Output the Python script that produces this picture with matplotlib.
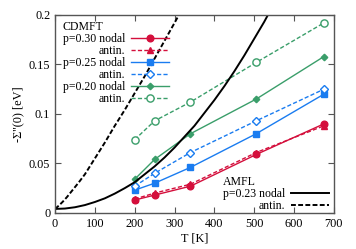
import matplotlib
matplotlib.use("Agg")
import matplotlib.pyplot as plt

plt.rcParams['font.family'] = ['Liberation Serif', 'DejaVu Serif']

# CDMFT data, T in K, -Sigma''(0) in eV
T = [200, 250, 340, 505, 675]
p30_nodal = [0.013, 0.018, 0.027, 0.059, 0.090]
p30_antin = [0.014, 0.020, 0.029, 0.061, 0.088]
p25_nodal = [0.023, 0.030, 0.046, 0.080, 0.120]
p25_antin = [0.027, 0.040, 0.061, 0.093, 0.125]
p20_nodal = [0.034, 0.054, 0.080, 0.115, 0.158]
p20_antin = [0.074, 0.093, 0.112, 0.152, 0.192]

# AMFL curves
T_amfl_nodal = [0, 25, 50, 75, 100, 125, 150, 175, 200, 225, 250, 275, 300, 325,
                350, 375, 400, 425, 450, 475, 500, 525, 545]
amfl_nodal = [0.004, 0.0044, 0.0057, 0.0079, 0.011, 0.0147, 0.0195, 0.025, 0.031,
              0.039, 0.047, 0.056, 0.066, 0.077, 0.088, 0.101, 0.114, 0.128, 0.143,
              0.159, 0.176, 0.193, 0.208]
T_amfl_antin = [0, 10, 20, 30, 40, 50, 60, 75, 100, 125, 150, 175, 200, 225, 250,
                275, 300, 315]
amfl_antin = [0.004, 0.0075, 0.0115, 0.016, 0.021, 0.026, 0.031, 0.039, 0.055, 0.071,
              0.088, 0.104, 0.121, 0.138, 0.156, 0.174, 0.192, 0.203]

red = '#d40f3c'
blue = '#1a7cf0'
green = '#3a9e6a'

fig = plt.figure(figsize=(3.56, 2.49), dpi=100)
ax = fig.add_axes([0.1545, 0.145, 0.7835, 0.795])

fs = 8.5
dash = (0, (3, 1.6))
l1, = ax.plot(T, p30_nodal, '-', color=red, marker='o', ms=4.8, lw=1.0, label='p=0.30 nodal')
l2, = ax.plot(T, p30_antin, color=red, ls=dash, marker='^', ms=4.8, lw=1.0, label='antin.')
l3, = ax.plot(T, p25_nodal, '-', color=blue, marker='s', ms=4.8, lw=1.0, label='p=0.25 nodal')
l4, = ax.plot(T, p25_antin, color=blue, ls=dash, marker='D', ms=4.3, mfc='white', mew=1.0, lw=1.0, label='antin.')
l5, = ax.plot(T, p20_nodal, '-', color=green, marker='D', ms=3.3, lw=1.0, label='p=0.20 nodal')
l6, = ax.plot(T, p20_antin, color=green, ls=dash, marker='o', ms=5.2, mfc='white', mew=1.0, lw=1.0, label='antin.')

a1, = ax.plot(T_amfl_nodal, amfl_nodal, '-', color='black', lw=1.4, label='p=0.23 nodal')
a2, = ax.plot(T_amfl_antin, amfl_antin, color='black', ls=(0, (2.5, 1.2)), lw=1.4, label='antin.')

ax.set_xlim(0, 700)
ax.set_ylim(0, 0.2)
ax.set_xticks(range(0, 701, 100))
ax.set_yticks([0, 0.05, 0.1, 0.15, 0.2])
ax.set_yticklabels(['0', '0.05', '0.1', '0.15', '0.2'])
ax.tick_params(direction='in', length=4, width=0.8, top=True, right=True,
               labelsize=fs + 0.3, colors='#555555', labelcolor='black')
for s in ax.spines.values():
    s.set_color('#555555')
    s.set_linewidth(1.0)

ax.set_xlabel('T [K]', fontsize=fs + 0.3, labelpad=2)
ax.set_ylabel("-Σ''(0) [eV]", fontsize=fs + 0.3, labelpad=3)

leg1 = ax.legend(handles=[l1, l2, l3, l4, l5, l6], loc='upper left',
                 bbox_to_anchor=(0.028, 0.97), frameon=False,
                 markerfirst=False, fontsize=fs, title='CDMFT', title_fontsize=fs,
                 alignment='left', handlelength=3.2, handletextpad=0.48,
                 labelspacing=0.0, borderaxespad=0, borderpad=0)
ax.add_artist(leg1)
ax.legend(handles=[a1, a2], loc='lower right', bbox_to_anchor=(0.982, 0.003),
          frameon=False, markerfirst=False,
          fontsize=fs, title='AMFL', title_fontsize=fs, alignment='left',
          handlelength=3.2, handletextpad=0.48, labelspacing=0.0,
          borderaxespad=0, borderpad=0)

fig.savefig('out.png', dpi=100)
